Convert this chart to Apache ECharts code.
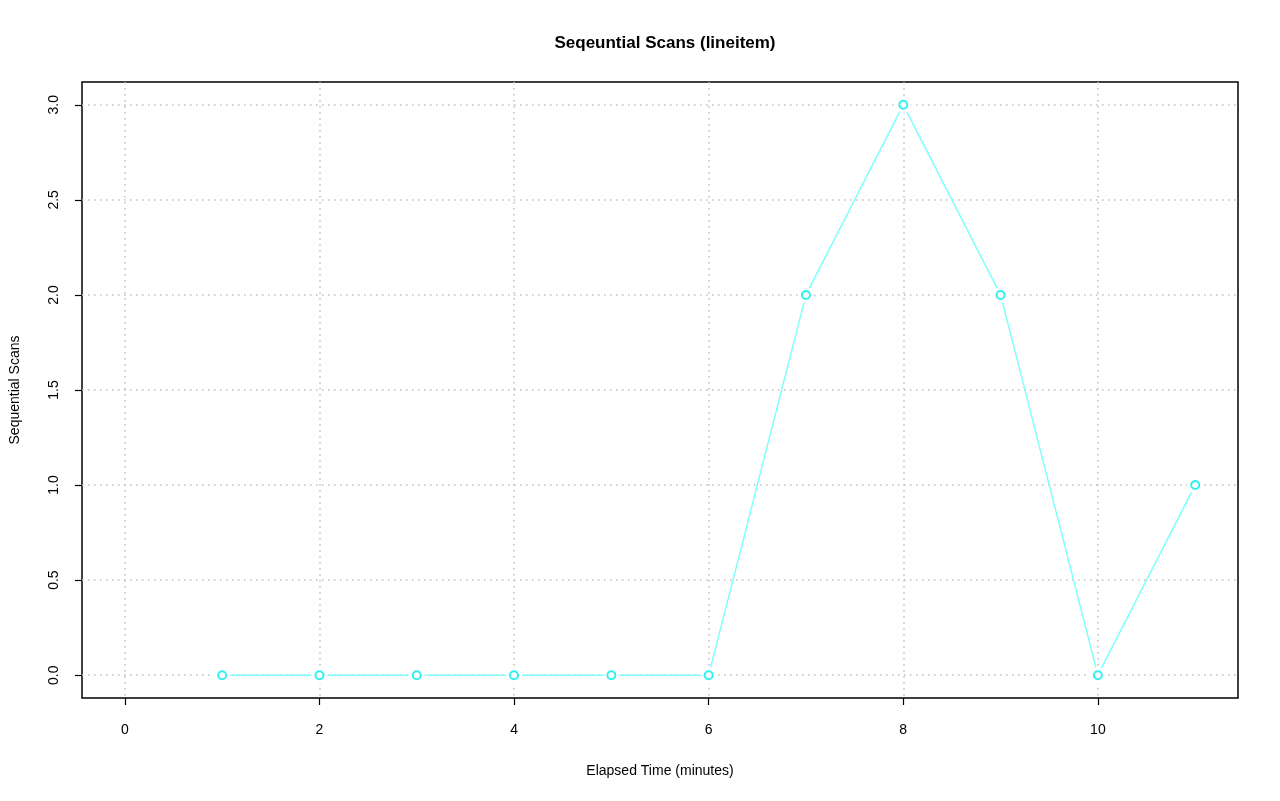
<!DOCTYPE html>
<html>
<head>
<meta charset="utf-8">
<script src="https://cdn.jsdelivr.net/npm/echarts@6/dist/echarts.min.js"></script>
<style>
  html, body { margin: 0; padding: 0; background: #fff; }
  #chart { width: 1280px; height: 801px; }
</style>
</head>
<body>
<div id="chart"></div>
<script>
// elapsed minutes and the scan counts
const minutes = [1, 2, 3, 4, 5, 6, 7, 8, 9, 10, 11]
const seqScans = [0, 0, 0, 0, 0, 0, 2, 3, 2, 0, 1]
const xTicks = [0, 2, 4, 6, 8, 10]
const yTicks = [0, 0.5, 1, 1.5, 2, 2.5, 3]

const points = minutes.map((m, i) => [m, seqScans[i]])
const font = 'Liberation Sans, Arial, sans-serif'
const gridLine = { color: '#bdbdbd', type: [1.5, 4.5], width: 1.5 }

const chart = echarts.init(document.getElementById('chart'))
chart.setOption({
  animation: false,
  backgroundColor: '#fff',
  title: {
    text: 'Seqeuntial Scans (lineitem)',
    left: 660,
    top: 30,
    textAlign: 'center',
    textStyle: { fontFamily: font, fontSize: 17, fontWeight: 'bold', color: '#000' }
  },
  grid: {
    left: 82, right: 42, top: 82, bottom: 103,
    show: true, borderColor: '#000', borderWidth: 1.5,
    containLabel: false,
    outerBoundsMode: 'none'
  },
  xAxis: {
    type: 'value',
    min: -0.44, max: 11.44,
    name: 'Elapsed Time (minutes)',
    nameLocation: 'middle',
    nameGap: 66,
    nameTextStyle: { fontFamily: font, fontSize: 14, color: '#000' },
    axisLine: { show: false, onZero: false },
    axisTick: { show: true, length: 7, lineStyle: { color: '#000', width: 1.2 }, customValues: xTicks },
    axisLabel: { fontFamily: font, fontSize: 14, color: '#000', margin: 25, customValues: xTicks },
    splitLine: { show: true, customValues: xTicks, lineStyle: gridLine }
  },
  yAxis: {
    type: 'value',
    min: -0.12, max: 3.12,
    name: 'Sequential Scans',
    nameLocation: 'middle',
    nameGap: 60,
    nameRotate: 90,
    nameTextStyle: { fontFamily: font, fontSize: 14, color: '#000' },
    axisLine: { show: false, onZero: false },
    axisTick: { show: true, length: 7, lineStyle: { color: '#000', width: 1.2 }, customValues: yTicks },
    axisLabel: {
      fontFamily: font, fontSize: 14, color: '#000', margin: 21, rotate: 90,
      customValues: yTicks,
      formatter: v => v.toFixed(1)
    },
    splitLine: { show: true, customValues: yTicks, lineStyle: gridLine }
  },
  series: [
    {
      type: 'line',
      data: points,
      showSymbol: false,
      lineStyle: { color: '#7fffff', width: 1.5 },
      z: 2
    },
    {
      // white gap round each point, like type = "b"
      type: 'scatter',
      data: points,
      symbolSize: 16,
      itemStyle: { color: '#fff', opacity: 1 },
      z: 3
    },
    {
      type: 'scatter',
      data: points,
      symbol: 'emptyCircle',
      symbolSize: 8,
      itemStyle: { color: '#33f0f0', borderColor: '#33f0f0', borderWidth: 1.5, opacity: 1 },
      z: 4
    }
  ]
})
</script>
</body>
</html>
